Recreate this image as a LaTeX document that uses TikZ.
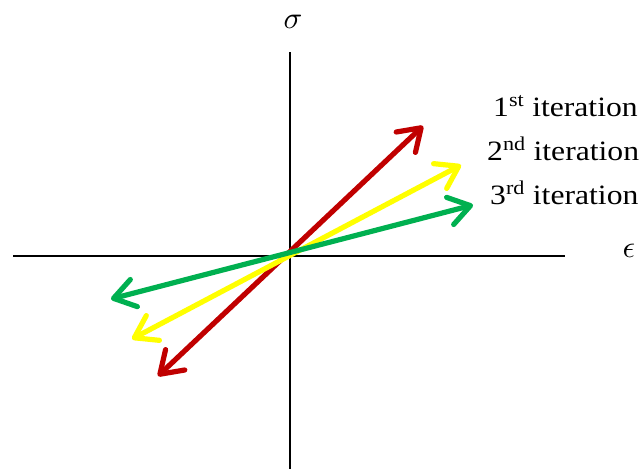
\documentclass[tikz,border=0pt]{standalone}
\usepackage{fontspec}
\setmainfont{Liberation Serif}
\usetikzlibrary{arrows.meta}
\definecolor{myred}{HTML}{C00000}
\definecolor{myyellow}{HTML}{FFFF00}
\definecolor{mygreen}{HTML}{00B050}
\tikzset{
  barb/.tip={Straight Barb[length=21pt,width=28pt,line cap=round,line join=round]},
  axis/.style={line width=1.6pt,black},
  vec/.style={line width=5.2pt,line cap=round,barb-barb},
  lab/.style={anchor=base west,inner sep=0pt,font=\fontsize{28}{30}\selectfont},
  sym/.style={inner sep=0pt}
}
\newcommand{\wide}[1]{\scalebox{1.13}[1]{#1}}
\begin{document}
\begin{tikzpicture}[x=1pt,y=-1pt]
\useasboundingbox (0,0) rectangle (642,469);
\coordinate (xl) at (13,256);
\coordinate (xr) at (565,256);
\coordinate (yt) at (290,52);
\coordinate (yb) at (290,469);
\draw[axis] (xl) -- (xr);
\draw[axis] (yt) -- (yb);
\node[sym] (sig) at (293,22) {\scalebox{3.1}{$\sigma$}};
\node[sym] (eps) at (629,251) {\scalebox{3.1}{$\epsilon$}};
\coordinate (r1) at (158,376);
\coordinate (r2) at (423,126);
\coordinate (y1) at (132,339);
\coordinate (y2) at (461,165);
\coordinate (g1) at (111,299);
\coordinate (g2) at (473,205);
\draw[vec,myred] (r1) -- (r2);
\draw[vec,myyellow] (y1) -- (y2);
\draw[vec,mygreen] (g1) -- (g2);
\node[lab] (l1) at (493,116) {\wide{1\textsuperscript{st} iteration}};
\node[lab] (l2) at (487,160) {\wide{2\textsuperscript{nd} iteration}};
\node[lab] (l3) at (490,204) {\wide{3\textsuperscript{rd} iteration}};
\end{tikzpicture}
\end{document}
